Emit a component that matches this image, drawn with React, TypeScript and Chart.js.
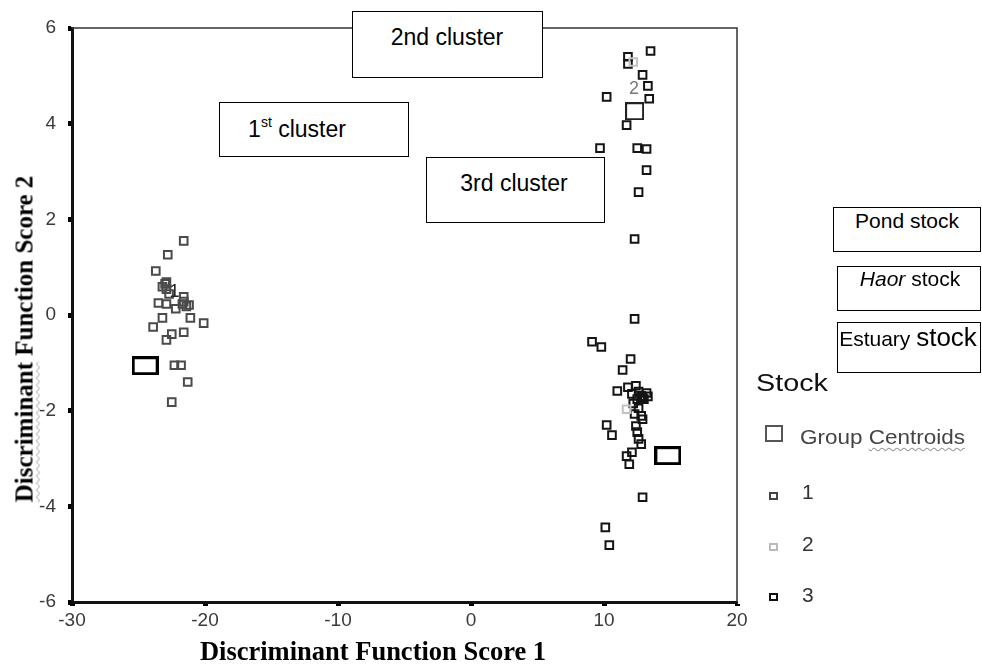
import React, { useEffect, useRef } from 'react';
import { Chart, registerables } from 'chart.js';
Chart.register(...registerables);

const xTicks = [-30, -20, -10, 0, 10, 20];
const yTicks = [-6, -4, -2, 0, 2, 4, 6];

// Stock 1 (dark grey)
const stock1X = [-21.6, -22.8, -23.7, -22.9, -23.2, -22.9, -22.7, -21.6, -23.5, -22.9, -21.7, -21.2, -22.2, -23.2, -21.1, -20.1, -23.9, -21.6, -22.5, -22.9, -22.3, -21.8, -21.3, -22.5, -23.0, -21.4, -21.6];
const stock1Y = [1.55, 1.26, 0.92, 0.69, 0.59, 0.54, 0.44, 0.38, 0.25, 0.23, 0.23, 0.21, 0.13, -0.06, -0.06, -0.17, -0.25, -0.36, -0.40, -0.52, -1.05, -1.05, -1.40, -1.82, 0.65, 0.18, 0.28];

// Stock 2 (light grey)
const stock2X = [12.2, 11.7];
const stock2Y = [5.29, -1.97];

// Stock 3 (black)
const stock3X = [13.5, 11.8, 11.8, 12.9, 13.3, 10.2, 13.4, 11.7, 9.7, 12.5, 13.2, 13.2, 12.6, 12.3,
  12.3, 9.1, 9.8, 12.0, 11.4, 12.4, 11.8, 11.0, 13.2, 12.1, 12.8, 12.5, 13.0, 12.6, 12.3, 12.8, 12.9, 12.4, 10.2, 10.6, 12.5, 12.6, 12.8, 12.1, 11.7, 11.9, 12.9, 10.1, 10.4, 12.6, 12.9, 12.2, 13.3];
const stock3Y = [5.52, 5.40, 5.25, 5.02, 4.79, 4.56, 4.52, 3.97, 3.49, 3.49, 3.47, 3.03, 2.57, 1.59,
  -0.08, -0.56, -0.67, -0.92, -1.15, -1.48, -1.51, -1.59, -1.63, -1.65, -1.69, -1.76, -1.76, -1.95, -2.07, -2.11, -2.18, -2.32, -2.30, -2.51, -2.45, -2.59, -2.70, -2.87, -2.95, -3.12, -3.81, -4.44, -4.81, -1.60, -1.72, -1.85, -1.70];

// Group centroids
const centroidX = [-24.5, 12.3, 14.8];
const centroidY = [-1.06, 4.26, -2.94];

// Centroid number labels
const labelText = ['1', '2'];
const labelX = [-22.3, 12.25];
const labelY = [0.47, 4.72];

const toPts = (xs: number[], ys: number[]) => xs.map((x, i) => ({ x, y: ys[i] }));

function rectStyle(w: number, h: number, lw: number, color: string) {
  const c = document.createElement('canvas');
  c.width = w; c.height = h;
  const g = c.getContext('2d')!;
  g.strokeStyle = color; g.lineWidth = lw;
  g.strokeRect(lw / 2, lw / 2, w - lw, h - lw);
  return c;
}

const SANS = '"Liberation Sans", Arial, sans-serif';
const SERIF = '"Liberation Serif", "Times New Roman", serif';

function Txt(props: { cx: number; cy: number; size: number; children: any; color?: string; anchor?: 'left' | 'center'; sx?: number; style?: any }) {
  const { cx, cy, size, children, color = '#000', anchor = 'center', sx = 1, style = {} } = props;
  const tx = anchor === 'center' ? '-50%' : '0';
  return (
    <div style={{ position: 'absolute', left: cx, top: cy, transform: `translate(${tx}, -50%) scaleX(${sx})`, transformOrigin: anchor === 'center' ? 'center' : 'left center', fontFamily: SANS, fontSize: size, color, whiteSpace: 'nowrap', lineHeight: 1.15, ...style }}>
      {children}
    </div>
  );
}

function Box(props: { l: number; t: number; r: number; b: number }) {
  return <div style={{ position: 'absolute', left: props.l, top: props.t, width: props.r - props.l, height: props.b - props.t, border: '1.5px solid #000', background: '#fff', boxSizing: 'border-box' }} />;
}

const wavy = { textDecoration: 'underline wavy #999', textDecorationThickness: '1px', textUnderlineOffset: '3px' } as any;

export default function App() {
  const ref = useRef<HTMLCanvasElement>(null);
  useEffect(() => {
    const frame = {
      id: 'frame',
      afterDatasetsDraw(chart: any) {
        const { ctx, chartArea } = chart;
        const { left, right, top, bottom } = chartArea;
        ctx.save();
        ctx.strokeStyle = '#333';
        ctx.lineWidth = 1.5;
        ctx.beginPath();
        ctx.moveTo(left, top);
        ctx.lineTo(right, top);
        ctx.lineTo(right, bottom);
        ctx.stroke();
        const xs = chart.scales.x, ys = chart.scales.y;
        ctx.font = '18px ' + SANS;
        ctx.textAlign = 'center';
        ctx.textBaseline = 'middle';
        labelText.forEach((t, i) => {
          ctx.fillStyle = i === 1 ? '#777' : '#222';
          ctx.fillText(t, xs.getPixelForValue(labelX[i]), ys.getPixelForValue(labelY[i]));
        });
        ctx.restore();
      },
    };
    const big = rectStyle(27, 19, 3, '#000');
    const small = rectStyle(19, 18, 2, '#222');
    const pt = (color: string) => ({
      pointStyle: 'rect', pointRadius: 5.4, pointBorderWidth: 2, pointBorderColor: color,
      pointBackgroundColor: 'rgba(255,255,255,0)', showLine: false,
    });
    const chart = new Chart(ref.current!, {
      type: 'scatter',
      data: {
        datasets: [
          { label: '1', data: toPts(stock1X, stock1Y), ...pt('#4a4a4a') } as any,
          { label: '2', data: toPts(stock2X, stock2Y), ...pt('#c2c2c2') } as any,
          { label: '3', data: toPts(stock3X, stock3Y), ...pt('#141414') } as any,
          { label: 'Group Centroids', data: toPts(centroidX, centroidY), pointStyle: [big, small, big], pointRadius: 10, showLine: false } as any,
        ],
      },
      options: {
        responsive: false,
        animation: false,
        events: [],
        layout: { padding: { top: 28, right: 245, left: 0, bottom: 0 } },
        plugins: { legend: { display: false }, tooltip: { enabled: false } },
        scales: {
          x: {
            type: 'linear', min: -30, max: 20,
            afterBuildTicks: (s: any) => { s.ticks = xTicks.map((v) => ({ value: v })); },
            afterFit: (s: any) => { s.height = 62; },
            grid: { drawOnChartArea: false, drawTicks: true, tickLength: 4, tickWidth: 5, tickColor: '#000' },
            border: { display: true, color: '#111', width: 3 },
            ticks: { font: { family: SANS, size: 19 }, color: '#3a3a3a', padding: 3, maxRotation: 0 },
          },
          y: {
            type: 'linear', min: -6, max: 6,
            afterBuildTicks: (s: any) => { s.ticks = yTicks.map((v) => ({ value: v })); },
            afterFit: (s: any) => { s.width = 72; },
            grid: { drawOnChartArea: false, drawTicks: true, tickLength: 4, tickWidth: 5, tickColor: '#000' },
            border: { display: true, color: '#111', width: 3 },
            ticks: { font: { family: SANS, size: 19 }, color: '#3a3a3a', padding: 12 },
          },
        },
      },
      plugins: [frame],
    } as any);
    return () => chart.destroy();
  }, []);

  return (
    <div style={{ position: 'absolute', left: 0, top: 0, width: 982, height: 664, background: '#fff', overflow: 'hidden' }}>
      <canvas ref={ref} width={982} height={664} style={{ position: 'absolute', left: 0, top: 0 }} />

      {/* Axis titles */}
      <div style={{ position: 'absolute', left: 373, top: 651, transform: 'translate(-50%, -50%)', fontFamily: SERIF, fontWeight: 'bold', fontSize: 26.5, whiteSpace: 'nowrap', lineHeight: 1 }}>
        <span style={wavy}>Discriminant</span> Function Score 1
      </div>
      <div style={{ position: 'absolute', left: 24, top: 339, transform: 'translate(-50%, -50%) rotate(-90deg)', fontFamily: SERIF, fontWeight: 'bold', fontSize: 25, whiteSpace: 'nowrap', lineHeight: 1 }}>
        <span style={wavy}>Discriminant</span> Function Score 2
      </div>

      {/* Cluster boxes */}
      <Box l={352} t={11} r={543} b={78} />
      <Txt cx={447} cy={37} size={23}>2nd cluster</Txt>
      <Box l={219} t={102} r={409} b={157} />
      <Txt cx={297} cy={129} size={23}>1<sup style={{ fontSize: 14, verticalAlign: 'top', position: 'relative', top: -2 }}>st</sup> cluster</Txt>
      <Box l={426} t={157} r={605} b={223} />
      <Txt cx={514} cy={183} size={23}>3rd cluster</Txt>

      {/* Stock boxes */}
      <Box l={833} t={207} r={981} b={252} />
      <Txt cx={907} cy={221} size={21}>Pond stock</Txt>
      <Box l={837} t={266} r={981} b={311} />
      <Txt cx={910} cy={279} size={21}><i>Haor</i> stock</Txt>
      <Box l={837} t={322} r={981} b={373} />
      <Txt cx={908} cy={338} size={21}>Estuary <span style={{ fontSize: 26 }}>stock</span></Txt>

      {/* Legend */}
      <Txt cx={756} cy={383} size={23} anchor="left" sx={1.25} color="#111">Stock</Txt>
      <div style={{ position: 'absolute', left: 765, top: 425, width: 18, height: 17, border: '2px solid #555', boxSizing: 'border-box' }} />
      <Txt cx={800} cy={437} size={21} anchor="left" sx={1.07} color="#444">Group <span style={wavy}>Centroids</span></Txt>
      <div style={{ position: 'absolute', left: 769, top: 492, width: 9, height: 8, border: '2px solid #444', boxSizing: 'border-box' }} />
      <Txt cx={802} cy={492} size={21} anchor="left" color="#333">1</Txt>
      <div style={{ position: 'absolute', left: 769, top: 543, width: 9, height: 8, border: '2px solid #bbb', boxSizing: 'border-box' }} />
      <Txt cx={802} cy={544} size={21} anchor="left" color="#333">2</Txt>
      <div style={{ position: 'absolute', left: 769, top: 593, width: 9, height: 8, border: '2px solid #111', boxSizing: 'border-box' }} />
      <Txt cx={802} cy={595} size={21} anchor="left" color="#333">3</Txt>
    </div>
  );
}
